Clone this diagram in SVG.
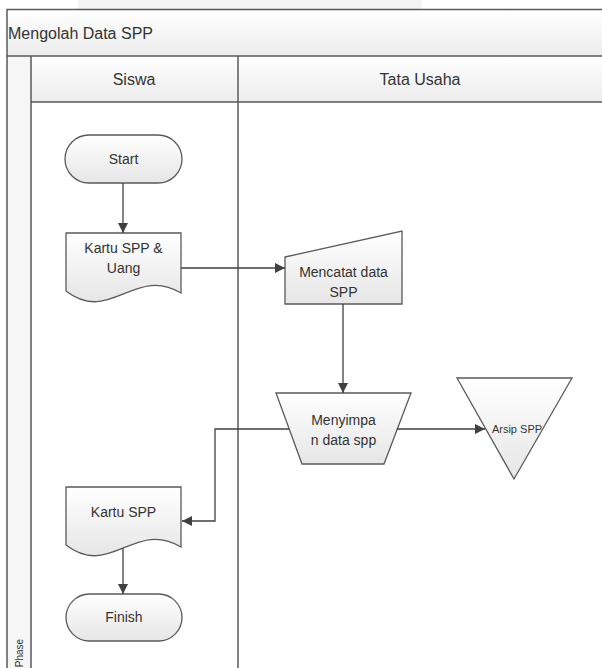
<svg xmlns="http://www.w3.org/2000/svg" width="602" height="668" viewBox="0 0 602 668">
<defs>
<linearGradient id="gShape" x1="0" y1="0" x2="0" y2="1">
<stop offset="0" stop-color="#ffffff"/>
<stop offset="1" stop-color="#e6e6e6"/>
</linearGradient>
<linearGradient id="gBand" x1="0" y1="0" x2="0" y2="1">
<stop offset="0" stop-color="#ffffff"/>
<stop offset="1" stop-color="#ececec"/>
</linearGradient>
<marker id="arr" viewBox="0 0 10 10" refX="10" refY="5" markerWidth="10" markerHeight="10" markerUnits="userSpaceOnUse" orient="auto">
<path d="M0,0 L10,5 L0,10 Z" fill="#404040"/>
</marker>
<style>
.shape{fill:url(#gShape);stroke:#5a5a5a;stroke-width:1.3}
.band{fill:url(#gBand);stroke:none}
.frame{stroke:#5a5a5a;stroke-width:1.5;fill:none}
.conn{stroke:#404040;stroke-width:1.3;fill:none;marker-end:url(#arr)}
.line{stroke:#404040;stroke-width:1.3;fill:none}
text{font-family:"Liberation Sans",Arial,sans-serif;fill:#333;text-anchor:middle}
.t{font-size:14px}
.h{font-size:16px}
</style>
</defs>
<rect width="602" height="668" fill="#ffffff"/>
<rect x="78" y="0" width="344" height="9" fill="#f4f4f4"/>
<g id="pool">
<rect class="band" x="7" y="10" width="600" height="46"/>
<rect class="band" x="31" y="56" width="576" height="46"/>
<rect x="7" y="56" width="24" height="620" fill="#f6f6f6"/>
<path class="frame" d="M602,9.5 H7 V670"/>
<path class="frame" d="M7,56 H602 M31,102 H602 M31,56 V670 M238,56 V670"/>
<text x="8" y="39" class="h" style="text-anchor:start">Mengolah Data SPP</text>
<text x="134" y="85" class="h">Siswa</text>
<text x="420" y="85" class="h">Tata Usaha</text>
<text x="0" y="0" transform="translate(23,653) rotate(-90)" style="font-size:10px">Phase</text>
</g>
<g id="start">
<rect class="shape" x="65" y="135" width="117" height="48" rx="24"/>
<text x="123.5" y="164" class="t">Start</text>
</g>
<g id="kartu-uang">
<path class="shape" d="M66,233 H181 V293 C135,265 110,325 66,291 Z"/>
<text x="123.5" y="253" class="t">Kartu SPP &amp;</text>
<text x="123.5" y="273" class="t">Uang</text>
</g>
<g id="mencatat">
<polygon class="shape" points="285,257 402,231 402,304 285,304"/>
<text x="343.5" y="277" class="t">Mencatat data</text>
<text x="343.5" y="297" class="t">SPP</text>
</g>
<g id="menyimpan">
<polygon class="shape" points="276,393 411,393 384,464 302,464"/>
<text x="343.5" y="425" class="t">Menyimpa</text>
<text x="343.5" y="445" class="t">n data spp</text>
</g>
<g id="arsip">
<polygon class="shape" points="457,378 572,378 514,479"/>
<text x="517" y="433" style="font-size:11px">Arsip SPP</text>
</g>
<g id="kartu">
<path class="shape" d="M66,487 H181 V547 C135,519 110,579 66,545 Z"/>
<text x="123.5" y="517" class="t">Kartu SPP</text>
</g>
<g id="finish">
<rect class="shape" x="66" y="594" width="116" height="47" rx="23.5"/>
<text x="124" y="622" class="t">Finish</text>
</g>
<g id="connectors">
<path class="conn" d="M123,183 V233"/>
<path class="conn" d="M181,268 H285"/>
<path class="conn" d="M343,304 V393"/>
<path class="conn" d="M397,429 H485"/>
<path class="conn" d="M289,429 H215 V521 H182"/>
<path class="conn" d="M123,548 V594"/>
</g>
</svg>
